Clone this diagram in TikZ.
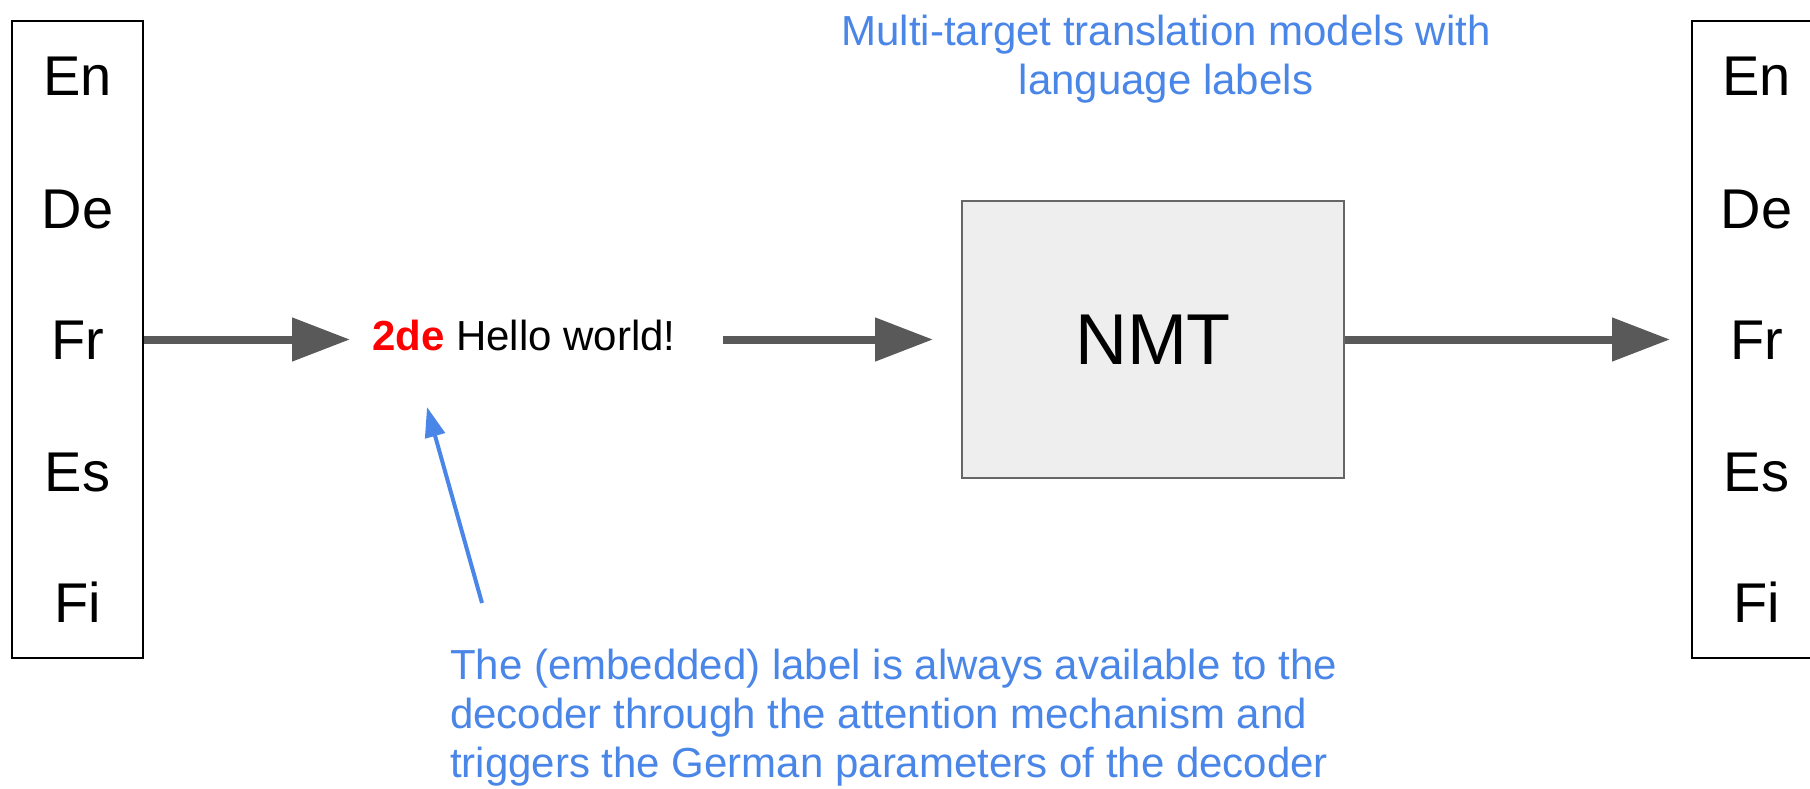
\documentclass[tikz,border=0pt]{standalone}
\usepackage{fontspec}
\setmainfont{Liberation Sans}
\usetikzlibrary{arrows.meta}
\definecolor{arrowgray}{HTML}{595959}
\definecolor{noteblue}{HTML}{4A86E8}
\definecolor{boxfill}{HTML}{EEEEEE}
\definecolor{boxedge}{HTML}{666666}
\definecolor{tagred}{HTML}{FF0000}
\begin{document}
\begin{tikzpicture}[x=1pt,y=-1pt,
  langbox/.style={draw=black, line width=2pt, minimum width=131.5pt, minimum height=637pt, inner sep=0pt},
  lang/.style={font=\fontsize{56}{60}\selectfont, anchor=base, inner sep=0pt},
  bigarrow/.style={draw=arrowgray, line width=8pt, -{Triangle[length=58pt,width=42pt]}},
  pointer/.style={draw=noteblue, line width=4pt, -{Triangle[length=30pt,width=20pt]}},
  note/.style={text=noteblue, font=\fontsize{42}{49}\selectfont, inner sep=0pt},
]
\clip (0,0) rectangle (1810,789);
\fill[white] (0,0) rectangle (1810,789);

% source and target language columns
\node[langbox] (src) at (77.25,339.5) {};
\node[langbox, anchor=west] (tgt) at (1691,339.5) {};
\foreach \name/\lab/\y in {en/En/96, de/De/228, fr/Fr/359, es/Es/491, fi/Fi/622} {
  \node[lang] (src-\name) at (77.5,\y) {\lab};
  \node[lang] (tgt-\name) at (1756.5,\y) {\lab};
}

% tagged source sentence
\node[anchor=base west, inner sep=0pt, font=\fontsize{42}{48}\selectfont] (msg) at (372,350)
  {\textcolor{tagred}{\bfseries 2de} Hello world!};

% translation model
\node[draw=boxedge, line width=2pt, fill=boxfill, minimum width=382pt, minimum height=277pt,
      font=\fontsize{72}{80}\selectfont] (nmt) at (1153,339.5) {NMT};

% data flow
\draw[bigarrow, shorten >=22pt] (src.east) -- (msg.west |- src.east);
\draw[bigarrow, shorten <=47pt, shorten >=28pt] (msg.east |- nmt.west) -- (nmt.west);
\draw[bigarrow, shorten >=21pt] (nmt.east) -- (tgt.west |- nmt.east);

% annotations (base anchor sits on the last line)
\node[note, align=center, anchor=base] (title) at (1166,95)
  {Multi-target translation models with\\language labels};
\node[note, align=left, anchor=base west] (expl) at (450,777)
  {The (embedded) label is always available to the\\decoder through the attention mechanism and\\triggers the German parameters of the decoder};
\coordinate (ptrtail) at (482,603);
\coordinate (ptrhead) at (427,407);
\draw[pointer] (ptrtail) -- (ptrhead);
\end{tikzpicture}
\end{document}
